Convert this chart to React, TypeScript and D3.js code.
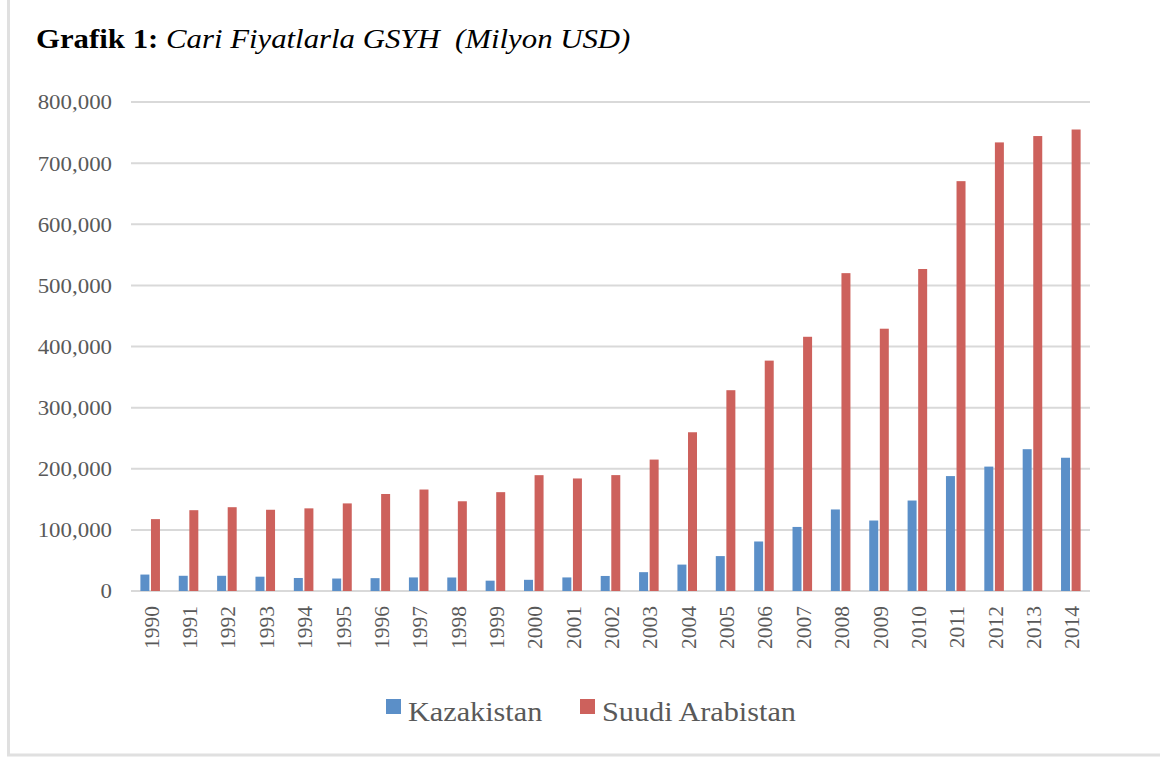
import React from "react";
import * as d3 from "d3";

const years = [
  "1990", "1991", "1992", "1993", "1994", "1995", "1996", "1997", "1998", "1999",
  "2000", "2001", "2002", "2003", "2004", "2005", "2006", "2007", "2008", "2009",
  "2010", "2011", "2012", "2013", "2014",
];
const kazakistan = [
  26900, 24900, 24900, 23400, 21300, 20400, 21000, 22200, 22100, 16900,
  18300, 22200, 24600, 30800, 43200, 57100, 81000, 104800, 133400, 115300,
  148000, 188000, 203500, 232000, 218000,
];
const suudiArabistan = [
  117600, 132200, 137100, 132900, 135200, 143300, 158700, 166000, 146800, 161700,
  189500, 184100, 189600, 215000, 259700, 328500, 376900, 415900, 520000, 429100,
  526800, 670500, 733900, 744300, 755000,
];
const seriesNames = ["Kazakistan", "Suudi Arabistan"];
const seriesColors = ["#5B8FC8", "#CD615C"];
const yTicks = [0, 100000, 200000, 300000, 400000, 500000, 600000, 700000, 800000];

export default function App() {
  const W = 1160, H = 758;
  const left = 131, right = 1090, top = 102, bottom = 591;
  const x0 = d3.scaleBand<string>().domain(years).range([left, right]).paddingInner(0.49).paddingOuter(0.245);
  const x1 = d3.scaleBand<string>().domain(seriesNames).range([0, x0.bandwidth()]).paddingInner(0.15).paddingOuter(0);
  const y = d3.scaleLinear().domain([0, 800000]).range([bottom, top]);
  const fmt = d3.format(",");
  const data = [kazakistan, suudiArabistan];
  const axisColor = "#595959";
  const serif = "'Liberation Serif', 'Times New Roman', serif";

  return (
    <svg width={W} height={H} style={{ position: "absolute", left: 0, top: 0 }} fontFamily={serif}>
      <rect x={0} y={0} width={W} height={H} fill="#fff" />
      {/* frame */}
      <line x1={8.5} x2={8.5} y1={0} y2={755} stroke="#e0e0e0" strokeWidth={3} />
      <line x1={7} x2={W} y1={755} y2={755} stroke="#e0e0e0" strokeWidth={3} />
      {/* title */}
      <g transform="translate(36,48) scale(1.1,1)">
        <text fontSize={28} fill="#000">
          <tspan fontWeight="bold">Grafik 1: </tspan>
          <tspan fontStyle="italic" xmlSpace="preserve">Cari Fiyatlarla GSYH  (Milyon USD)</tspan>
        </text>
      </g>
      {/* gridlines */}
      {yTicks.map((t) => (
        <line key={t} x1={left} x2={right} y1={y(t)} y2={y(t)} stroke="#d9d9d9" strokeWidth={2} />
      ))}
      {/* y labels */}
      {yTicks.map((t) => (
        <g key={"l" + t} transform={`translate(112,${y(t)}) scale(1.04,1)`}>
          <text textAnchor="end" dy="0.34em" fontSize={22} fill={axisColor}>
            {fmt(t)}
          </text>
        </g>
      ))}
      {/* bars */}
      {data.map((vals, si) =>
        vals.map((v, i) => (
          <rect
            key={si + "-" + i}
            x={(x0(years[i]) as number) + (x1(seriesNames[si]) as number)}
            y={y(v)}
            width={x1.bandwidth()}
            height={bottom - y(v)}
            fill={seriesColors[si]}
          />
        ))
      )}
      {/* x labels */}
      {years.map((yr) => {
        const cx = (x0(yr) as number) + x0.bandwidth() / 2;
        return (
          <text
            key={yr}
            transform={`translate(${cx + 1},606) rotate(-90)`}
            textAnchor="end"
            dy="0.35em"
            fontSize={21.5}
            fill={axisColor}
          >
            {yr}
          </text>
        );
      })}
      {/* legend */}
      {seriesNames.map((n, i) => {
        const lx = [386, 580][i];
        return (
          <g key={n}>
            <rect x={lx} y={699} width={15} height={15} fill={seriesColors[i]} />
            <g transform={`translate(${lx + 22},721) scale(1.08,1)`}>
              <text fontSize={28} fill={axisColor}>{n}</text>
            </g>
          </g>
        );
      })}
    </svg>
  );
}
